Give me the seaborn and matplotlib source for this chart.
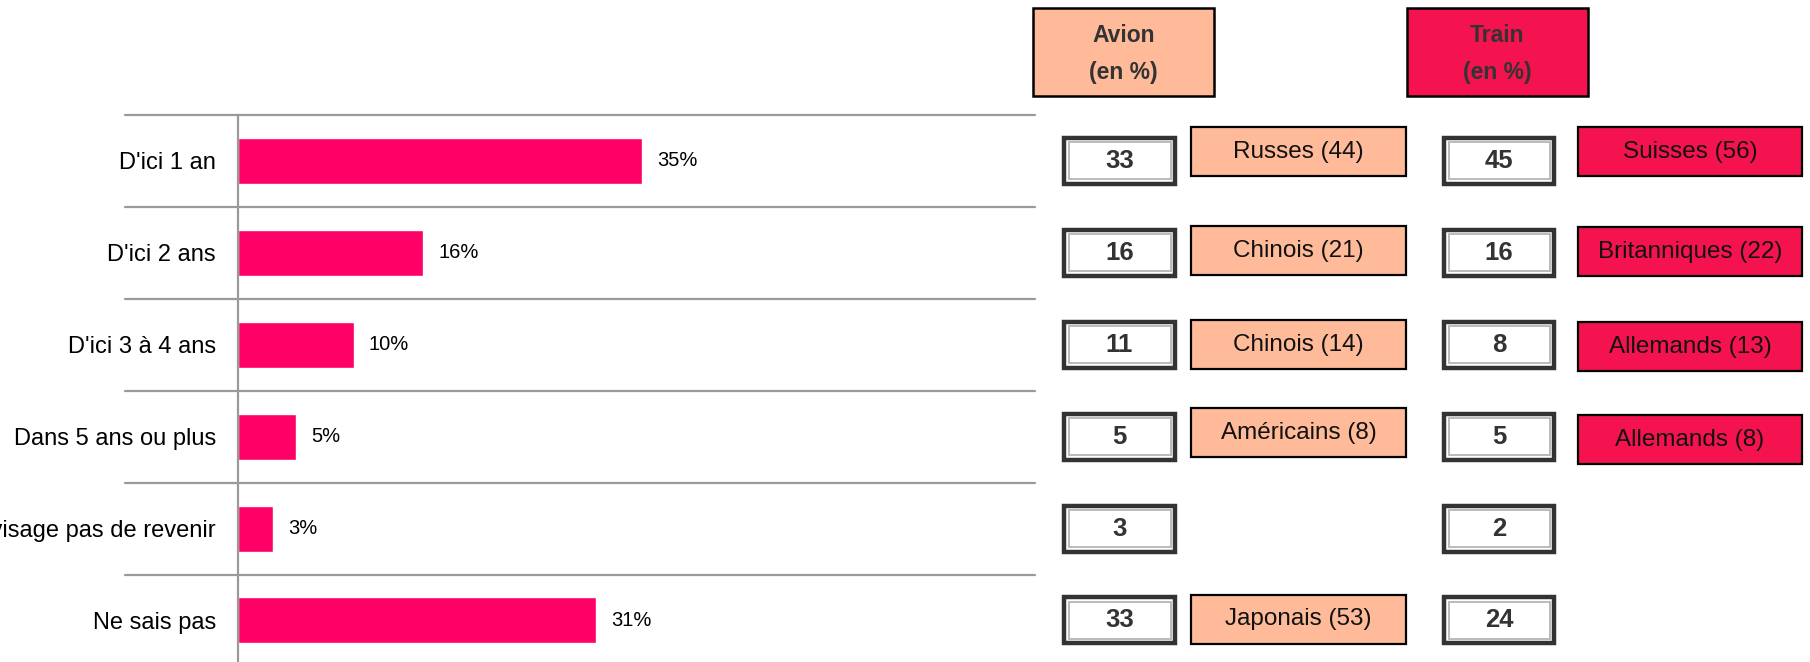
import numpy as np
import pandas as pd
import matplotlib
matplotlib.use("Agg")
import matplotlib.pyplot as plt
import seaborn as sns
from matplotlib.patches import Rectangle

# ---------------- data ----------------
categories = ["D'ici 1 an", "D'ici 2 ans", "D'ici 3 à 4 ans", "Dans 5 ans ou plus",
              "Je n'envisage pas de revenir", "Ne sais pas"]
overall_pct = [35, 16, 10, 5, 3, 31]
avion_pct = [33, 16, 11, 5, 3, 33]
train_pct = [45, 16, 8, 5, 2, 24]
avion_top = ["Russes (44)", "Chinois (21)", "Chinois (14)", "Américains (8)", None, "Japonais (53)"]
train_top = ["Suisses (56)", "Britanniques (22)", "Allemands (13)", "Allemands (8)", None, None]
header_titles = ["Avion", "Train"]
header_sub = "(en %)"

# ---------------- style ----------------
sns.set_theme(style="white")
plt.rcParams['font.family'] = ['Liberation Sans', 'DejaVu Sans']

BAR = "#FF0066"
PEACH = "#FFBB99"
RED = "#F5134F"
GRID = "#9A9A9A"
DARK = "#333333"

W, H = 1810, 662
fig = plt.figure(figsize=(W / 100, H / 100), dpi=100)


def px_axes(x0, x1, y0, y1):
    return [x0 / W, 1 - y1 / H, (x1 - x0) / W, (y1 - y0) / H]


row_h = 91.9
top = 115
bottom = top + 6 * row_h

# ---------------- left bar chart ----------------
ax = fig.add_axes(px_axes(238, 1035, top, bottom))
df = pd.DataFrame({"cat": categories, "pct": overall_pct})
sns.barplot(data=df, y="cat", x="pct", orient="h", color=BAR, saturation=1,
            width=0.5, ax=ax)
ax.set_xlim(0, 69)
ax.set_ylim(5.5, -0.5)
ax.set_xlabel("")
ax.set_ylabel("")
ax.set_xticks([])
for s in ["top", "right", "bottom"]:
    ax.spines[s].set_visible(False)
ax.spines["left"].set_color(GRID)
ax.spines["left"].set_linewidth(1.6)
ax.tick_params(axis="y", length=0, pad=16, labelsize=17, labelcolor="black")
ax.bar_label(ax.containers[0], labels=[f"{v}%" for v in overall_pct],
             padding=11, fontsize=14.5, color="black")
for k in range(len(categories)):
    ax.axhline(k - 0.5, xmin=-0.142, xmax=1.0, color=GRID, lw=1.6, clip_on=False)

# ---------------- right panel ----------------
axr = fig.add_axes(px_axes(1030, 1810, top, bottom))
axr.set_xlim(0, 780)
axr.set_ylim(5.5, -0.5)
axr.axis("off")


def py(px):  # pixel distance -> row units
    return px / row_h


# headers
for (x0, x1), title, col in zip([(3, 184), (377, 558)], header_titles, [PEACH, RED]):
    y_top = -0.5 - py(107)
    y_bot = -0.5 - py(19)
    axr.add_patch(Rectangle((x0, y_top), x1 - x0, y_bot - y_top, facecolor=col,
                            edgecolor="black", lw=1.8, clip_on=False))
    xc = (x0 + x1) / 2
    axr.text(xc, -0.5 - py(80), title, ha="center", va="center", fontsize=16.5,
             fontweight="bold", color=DARK, clip_on=False)
    axr.text(xc, -0.5 - py(43), header_sub, ha="center", va="center", fontsize=16.5,
             fontweight="bold", color=DARK, clip_on=False)


def num_box(x0, x1, yc, txt):
    h = py(46)
    axr.add_patch(Rectangle((x0, yc - h / 2), x1 - x0, h, facecolor="white",
                            edgecolor=DARK, lw=3.2))
    ins = 4.5
    axr.add_patch(Rectangle((x0 + ins, yc - h / 2 + py(ins)), x1 - x0 - 2 * ins,
                            h - py(2 * ins), facecolor="none", edgecolor="#B5B5B5", lw=1.3))
    axr.text((x0 + x1) / 2, yc, txt, ha="center", va="center", fontsize=18.5,
             fontweight="bold", color=DARK)


def label_box(x0, x1, yc, txt, col, h_px=49):
    h = py(h_px)
    axr.add_patch(Rectangle((x0, yc - h / 2), x1 - x0, h, facecolor=col,
                            edgecolor="black", lw=1.6))
    axr.text((x0 + x1) / 2, yc, txt, ha="center", va="center", fontsize=17.5,
             color="#111111")


avion_off = [-9, -2, 0, -4, 0, -1]
train_off = [-9, -1, 2, 3, 0, 0]
for i in range(len(categories)):
    num_box(34, 145, i, str(avion_pct[i]))
    num_box(414, 524, i, str(train_pct[i]))
    if avion_top[i]:
        label_box(161, 376, i + py(avion_off[i]), avion_top[i], PEACH)
    if train_top[i]:
        label_box(548, 772, i + py(train_off[i]), train_top[i], RED)

fig.savefig("out.png", dpi=100)
